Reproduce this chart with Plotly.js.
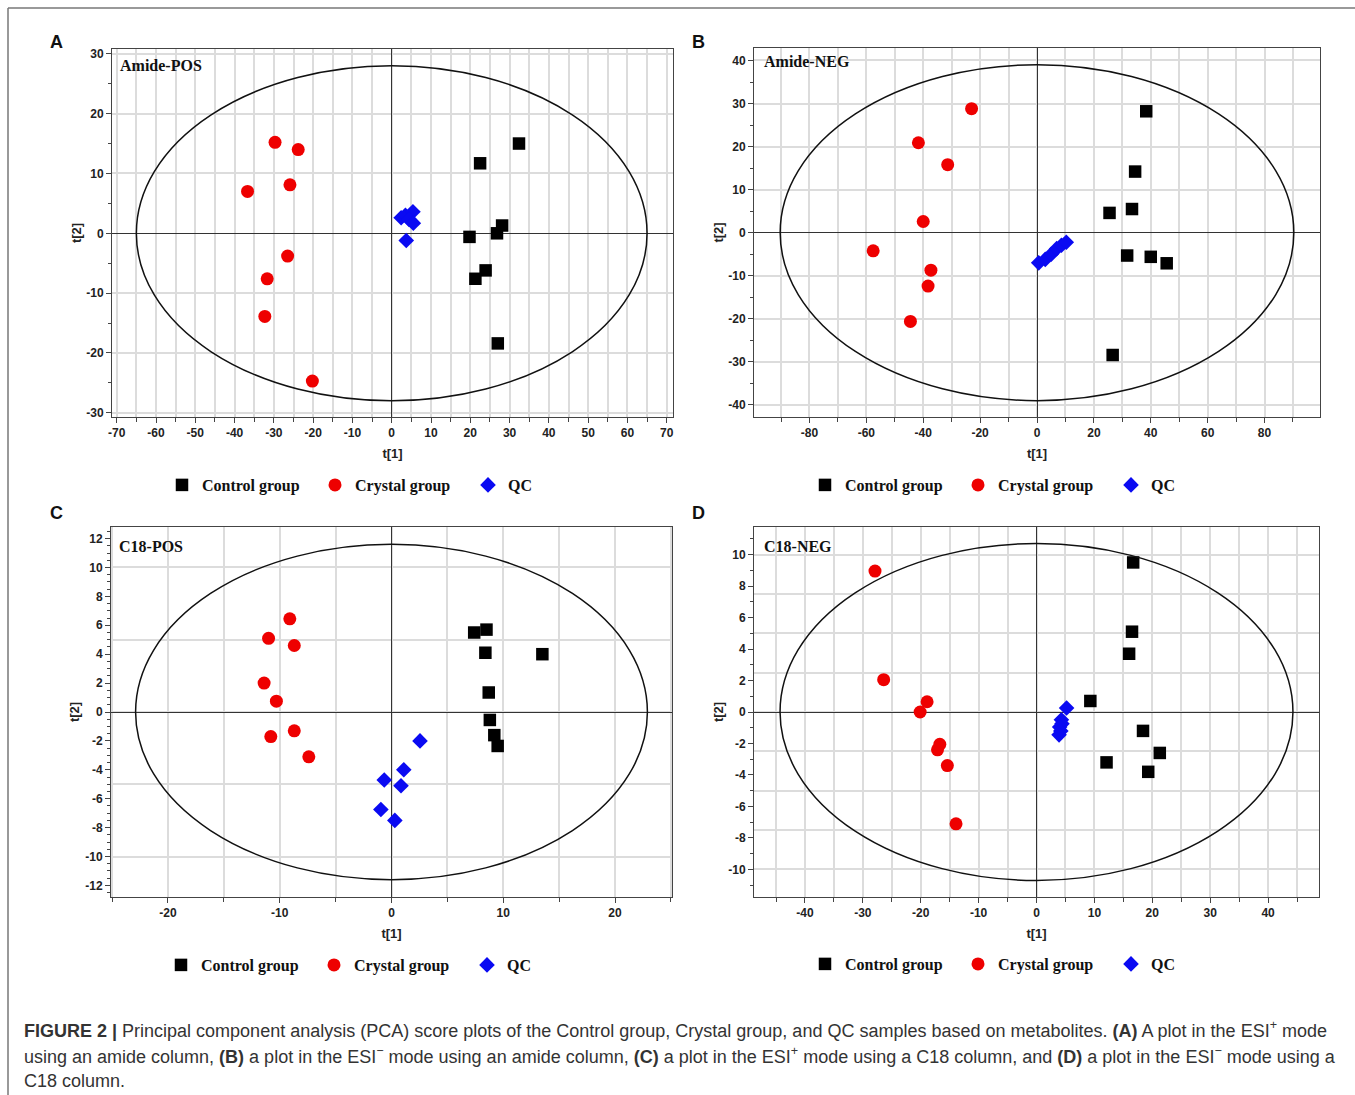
<!DOCTYPE html>
<html><head><meta charset="utf-8">
<script src="https://cdn.plot.ly/plotly-3.0.1.min.js"></script>
<style>html,body{margin:0;padding:0;background:#fff}#chart{width:1355px;height:1095px}</style>
</head><body><div id="chart"></div>
<script>
// ---------- DATA ----------
const groupNames = ['Control group', 'Crystal group', 'QC'];
const panelTitles = ['Amide-POS', 'Amide-NEG', 'C18-POS', 'C18-NEG'];
const panelLetters = ['A', 'B', 'C', 'D'];

// Panel A: Amide-POS
const A_control_x = [32.4, 22.5, 19.8, 26.8, 28.1, 23.9, 21.3, 27.0];
const A_control_y = [15.0, 11.7, -0.6, 0.0, 1.3, -6.2, -7.6, -18.4];
const A_crystal_x = [-29.7, -23.8, -36.7, -25.9, -26.5, -31.7, -32.3, -20.2];
const A_crystal_y = [15.2, 14.0, 7.0, 8.1, -3.8, -7.6, -13.9, -24.7];
const A_qc_x = [2.4, 3.5, 5.4, 4.4, 5.5, 3.7];
const A_qc_y = [2.6, 3.0, 3.6, 2.3, 1.7, -1.2];

// Panel B: Amide-NEG
const B_control_x = [38.4, 34.5, 25.5, 33.4, 31.7, 40.0, 45.6, 26.6];
const B_control_y = [28.2, 14.2, 4.6, 5.5, -5.3, -5.6, -7.1, -28.4];
const B_crystal_x = [-23.0, -41.7, -31.4, -40.0, -57.6, -37.3, -38.3, -44.5];
const B_crystal_y = [28.8, 20.9, 15.8, 2.6, -4.2, -8.7, -12.4, -20.6];
const B_qc_x = [0.6, 2.9, 5.0, 6.9, 8.6, 10.3];
const B_qc_y = [-7.0, -6.2, -5.0, -3.7, -2.9, -2.2];

// Panel C: C18-POS
const C_control_x = [7.4, 8.5, 8.4, 13.5, 8.7, 8.8, 9.2, 9.5];
const C_control_y = [5.5, 5.7, 4.1, 4.0, 1.35, -0.55, -1.6, -2.35];
const C_crystal_x = [-9.1, -11.0, -8.7, -11.4, -10.3, -8.7, -10.8, -7.4];
const C_crystal_y = [6.45, 5.1, 4.6, 2.0, 0.75, -1.3, -1.7, -3.1];
const C_qc_x = [2.55, 1.1, -0.65, 0.85, -0.95, 0.3];
const C_qc_y = [-2.0, -4.0, -4.7, -5.1, -6.75, -7.5];

// Panel D: C18-NEG
const D_control_x = [16.7, 16.5, 16.0, 9.3, 18.4, 21.3, 12.1, 19.3];
const D_control_y = [9.5, 5.1, 3.7, 0.7, -1.2, -2.6, -3.2, -3.8];
const D_crystal_x = [-27.9, -26.4, -18.9, -20.1, -16.7, -17.1, -15.4, -13.9];
const D_crystal_y = [8.95, 2.05, 0.65, 0.0, -2.05, -2.4, -3.4, -7.1];
const D_qc_x = [5.2, 4.3, 4.4, 4.0, 4.2, 3.9];
const D_qc_y = [0.25, -0.5, -0.75, -0.95, -1.2, -1.45];

// Hotelling T2 ellipse semi-axes [t1, t2]
const ellipseA = [65, 28];
const ellipseB = [90.3, 39];
const ellipseC = [22.9, 11.6];
const ellipseD = [44.3, 10.7];

// tick label values (labels drawn with plain hyphen-minus as in the original)
const A_xTicks = [-70, -60, -50, -40, -30, -20, -10, 0, 10, 20, 30, 40, 50, 60, 70];
const A_yTicks = [-30, -20, -10, 0, 10, 20, 30];
const B_xTicks = [-80, -60, -40, -20, 0, 20, 40, 60, 80];
const B_yTicks = [-40, -30, -20, -10, 0, 10, 20, 30, 40];
const C_xTicks = [-20, -10, 0, 10, 20];
const C_yTicks = [-12, -10, -8, -6, -4, -2, 0, 2, 4, 6, 8, 10, 12];
const D_xTicks = [-40, -30, -20, -10, 0, 10, 20, 30, 40];
const D_yTicks = [-10, -8, -6, -4, -2, 0, 2, 4, 6, 8, 10];

// ---------- STYLE ----------
const W = 1355, H = 1095;
const cols = {control: '#000000', crystal: '#ee0000', qc: '#0a0af2'};
const serifBold = {family: 'Liberation Serif, Times New Roman, serif', size: 16, weight: 'bold', color: '#111'};
const tickFont = {family: 'Liberation Sans, Arial, sans-serif', size: 12, weight: 'bold', color: '#222'};
const gridC = '#dcdcdc';

const panels = [
  {cx: A_control_x, cy: A_control_y, rx: A_crystal_x, ry: A_crystal_y, qx: A_qc_x, qy: A_qc_y, ell: ellipseA},
  {cx: B_control_x, cy: B_control_y, rx: B_crystal_x, ry: B_crystal_y, qx: B_qc_x, qy: B_qc_y, ell: ellipseB},
  {cx: C_control_x, cy: C_control_y, rx: C_crystal_x, ry: C_crystal_y, qx: C_qc_x, qy: C_qc_y, ell: ellipseC},
  {cx: D_control_x, cy: D_control_y, rx: D_crystal_x, ry: D_crystal_y, qx: D_qc_x, qy: D_qc_y, ell: ellipseD}
];
const legendIds = ['legend', 'legend2', 'legend3', 'legend4'];
// panels C and D carry an extra overlay y axis (y5, y6) that draws their grid
const controlYAxis = ['y', 'y2', 'y5', 'y6'];

const traces = [];
panels.forEach((p, i) => {
  const xa = i === 0 ? 'x' : 'x' + (i + 1);
  const ya = i === 0 ? 'y' : 'y' + (i + 1);
  traces.push({type: 'scatter', mode: 'markers', x: p.cx, y: p.cy, xaxis: xa, yaxis: controlYAxis[i], name: groupNames[0],
    legend: legendIds[i], marker: {symbol: 'square', size: 12.5, color: cols.control, line: {width: 0}}, hoverinfo: 'x+y'});
  traces.push({type: 'scatter', mode: 'markers', x: p.rx, y: p.ry, xaxis: xa, yaxis: ya, name: groupNames[1],
    legend: legendIds[i], marker: {symbol: 'circle', size: 13, color: cols.crystal, line: {width: 0}}, hoverinfo: 'x+y'});
  traces.push({type: 'scatter', mode: 'markers', x: p.qx, y: p.qy, xaxis: xa, yaxis: ya, name: groupNames[2],
    legend: legendIds[i], marker: {symbol: 'diamond', size: 12, color: cols.qc, line: {width: 0}}, hoverinfo: 'x+y'});
});

function baseAxis(extra) {
  return Object.assign({
    showline: true, linecolor: '#444', linewidth: 1, mirror: true,
    zeroline: true, zerolinecolor: '#333', zerolinewidth: 1.2,
    ticks: 'outside', ticklen: 5, tickcolor: '#444', tickwidth: 1,
    tickfont: tickFont, showgrid: true, gridcolor: gridC, gridwidth: 1.5,
    fixedrange: true, automargin: false
  }, extra);
}
const arr = (vals) => ({tickmode: 'array', tickvals: vals, ticktext: vals.map(v => String(v))});
const axTitle = (t, so) => ({text: t, font: {family: 'Liberation Sans, Arial, sans-serif', size: 13, weight: 'bold', color: '#222'}, standoff: so});
const minorGrid = (d) => ({tickmode: 'linear', tick0: 0, dtick: d, ticks: 'outside', ticklen: 4, tickcolor: '#444', showgrid: true, gridcolor: gridC, gridwidth: 1.5});
const minorTick = (d) => ({tickmode: 'linear', tick0: 0, dtick: d, ticks: 'outside', ticklen: 3, tickcolor: '#444', showgrid: false});

const dx1 = [112 / W, 673 / W], dx2 = [754 / W, 1320 / W];
const dx3 = [111 / W, 672 / W], dx4 = [754 / W, 1319 / W];
const dyTop = [1 - 417 / H, 1 - 49 / H], dyBot = [1 - 897 / H, 1 - 527 / H];

function leg(xpx, ypx) {
  return {orientation: 'h', x: xpx / W, y: 1 - ypx / H, xanchor: 'left', yanchor: 'middle',
    bgcolor: 'rgba(0,0,0,0)', borderwidth: 0, font: serifBold, entrywidth: 108, entrywidthmode: 'pixels',
    itemclick: false, itemdoubleclick: false};
}

const layout = {
  width: W, height: H, margin: {l: 0, r: 0, t: 0, b: 0},
  paper_bgcolor: '#fff', plot_bgcolor: '#fff', showlegend: true,
  xaxis: baseAxis(Object.assign(arr(A_xTicks), {domain: dx1, anchor: 'y', range: [-71.2, 71.6],
    minor: minorGrid(5), title: axTitle('t[1]', 9)})),
  yaxis: baseAxis(Object.assign(arr(A_yTicks), {domain: dyTop, anchor: 'x', range: [-30.7, 30.8],
    minor: minorTick(5), title: axTitle('t[2]', 1)})),
  xaxis2: baseAxis(Object.assign(arr(B_xTicks), {domain: dx2, anchor: 'y2', range: [-99.5, 99.5],
    minor: minorGrid(10), title: axTitle('t[1]', 9)})),
  yaxis2: baseAxis(Object.assign(arr(B_yTicks), {domain: [1 - 417 / H, 1 - 48 / H], anchor: 'x2', range: [-42.8, 42.9],
    minor: minorTick(5), title: axTitle('t[2]', 1)})),
  xaxis3: baseAxis(Object.assign(arr(C_xTicks), {domain: dx3, anchor: 'y3', range: [-25.1, 25.1],
    minor: minorGrid(5), title: axTitle('t[1]', 9)})),
  yaxis3: baseAxis(Object.assign(arr(C_yTicks), {domain: dyBot, anchor: 'x3', range: [-12.8, 12.8], showgrid: false,
    minor: minorTick(0.5), title: axTitle('t[2]', 2)})),
  yaxis5: {overlaying: 'y3', anchor: 'x3', side: 'left', range: [-12.8, 12.8], tickmode: 'linear', tick0: 0, dtick: 5,
    showline: false, zeroline: false, showgrid: true, gridcolor: gridC, gridwidth: 1.5, ticks: '', showticklabels: false,
    fixedrange: true, automargin: false},
  xaxis4: baseAxis(Object.assign(arr(D_xTicks), {domain: dx4, anchor: 'y4', range: [-48.8, 48.8],
    minor: minorGrid(5), title: axTitle('t[1]', 9)})),
  yaxis4: baseAxis(Object.assign(arr(D_yTicks), {domain: dyBot, anchor: 'x4', range: [-11.75, 11.75], showgrid: false,
    minor: minorTick(1), title: axTitle('t[2]', 1)})),
  yaxis6: {overlaying: 'y4', anchor: 'x4', side: 'left', range: [-11.75, 11.75], tickmode: 'linear', tick0: 0, dtick: 2.5,
    showline: false, zeroline: false, showgrid: true, gridcolor: gridC, gridwidth: 1.5, ticks: '', showticklabels: false,
    fixedrange: true, automargin: false},
  legend: leg(162, 485),
  legend2: leg(805, 485),
  legend3: leg(161, 965),
  legend4: leg(805, 964),
  shapes: [],
  annotations: []
};

// ellipses in data coordinates
panels.forEach((p, i) => {
  const xr = i === 0 ? 'x' : 'x' + (i + 1);
  const yr = i === 0 ? 'y' : 'y' + (i + 1);
  layout.shapes.push({type: 'circle', xref: xr, yref: yr, x0: -p.ell[0], x1: p.ell[0], y0: -p.ell[1], y1: p.ell[1],
    line: {color: '#111', width: 1.5}, layer: 'above'});
});
// frame lines
layout.shapes.push({type: 'line', xref: 'paper', yref: 'paper', x0: 8 / W, x1: 1, y0: 1 - 8 / H, y1: 1 - 8 / H, line: {color: '#777', width: 1.5}});
layout.shapes.push({type: 'line', xref: 'paper', yref: 'paper', x0: 8 / W, x1: 8 / W, y0: 0, y1: 1 - 8 / H, line: {color: '#777', width: 1.5}});

// panel letters and titles
const letterPos = [[56, 42], [698, 42], [56, 513], [698, 513]];
const titlePos = [[118, 66], [762, 62], [117, 546], [762, 546]];
panelLetters.forEach((L, i) => {
  layout.annotations.push({xref: 'paper', yref: 'paper', x: letterPos[i][0] / W, y: 1 - letterPos[i][1] / H,
    xanchor: 'center', yanchor: 'middle', showarrow: false, text: '<b>' + L + '</b>',
    font: {family: 'Liberation Sans, Arial, sans-serif', size: 18, color: '#111'}});
  layout.annotations.push({xref: 'paper', yref: 'paper', x: titlePos[i][0] / W, y: 1 - titlePos[i][1] / H,
    xanchor: 'left', yanchor: 'middle', showarrow: false, text: panelTitles[i], font: serifBold});
});

// caption
const captionLines = [
  '<b>FIGURE 2 |</b> Principal component analysis (PCA) score plots of the Control group, Crystal group, and QC samples based on metabolites. <b>(A)</b> A plot in the ESI<sup>+</sup> mode',
  'using an amide column, <b>(B)</b> a plot in the ESI<sup>\u2212</sup> mode using an amide column, <b>(C)</b> a plot in the ESI<sup>+</sup> mode using a C18 column, and <b>(D)</b> a plot in the ESI<sup>\u2212</sup> mode using a',
  'C18 column.'
];
const captionY = [1029, 1055, 1081];
captionLines.forEach((t, i) => {
  layout.annotations.push({xref: 'paper', yref: 'paper', x: 22 / W, y: 1 - captionY[i] / H,
    xanchor: 'left', yanchor: 'middle', showarrow: false, text: t,
    font: {family: 'Liberation Sans, Arial, sans-serif', size: 18, color: '#333'}});
});

Plotly.newPlot('chart', traces, layout, {displayModeBar: false});
</script>
</body></html>
